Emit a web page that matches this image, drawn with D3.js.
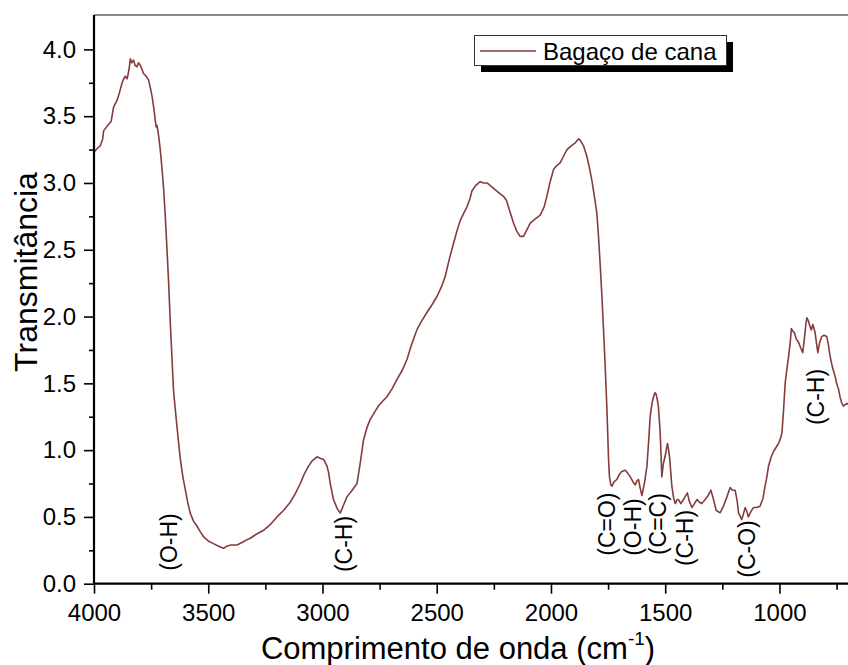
<!DOCTYPE html>
<html>
<head>
<meta charset="utf-8">
<script src="https://cdn.jsdelivr.net/npm/d3@7"></script>
<style>
  html, body { margin: 0; padding: 0; background: #fff; }
  svg { display: block; font-family: "Liberation Sans", Arial, sans-serif; }
</style>
</head>
<body>
<svg id="chart" width="848" height="665"></svg>
<script>
// ---- Data ----
const wavenumber = [4000,3985,3972,3962,3958,3945,3936,3925,3921,3914,3905,3899,3888,3877,3870,3863,3855,3849,3845,3841,3835,3827,3820,3812,3805,3797,3790,3783,3772,3761,3753,3746,3739,3732,3728,3724,3717,3710,3702,3695,3688,3681,3673,3666,3659,3652,3644,3637,3630,3622,3611,3600,3590,3579,3565,3549,3535,3520,3500,3477,3455,3433,3420,3400,3374,3350,3330,3316,3290,3258,3230,3199,3170,3141,3120,3097,3080,3061,3045,3024,3010,2995,2980,2973,2966,2952,2935,2922,2910,2893,2870,2849,2835,2820,2805,2791,2770,2755,2735,2718,2695,2674,2650,2630,2610,2587,2565,2543,2520,2499,2480,2463,2445,2426,2410,2397,2380,2368,2355,2346,2330,2310,2295,2280,2265,2251,2230,2208,2195,2186,2175,2164,2150,2135,2120,2105,2091,2070,2047,2030,2018,2005,1989,1975,1960,1945,1930,1910,1894,1880,1872,1858,1843,1830,1821,1810,1799,1792,1785,1777,1770,1762,1755,1748,1744,1738,1733,1725,1712,1700,1690,1675,1665,1653,1640,1631,1624,1617,1610,1602,1590,1580,1572,1566,1558,1551,1545,1540,1535,1530,1522,1518,1515,1508,1501,1490,1485,1481,1475,1471,1463,1456,1448,1442,1432,1420,1410,1403,1395,1383,1372,1361,1350,1340,1325,1312,1300,1290,1277,1260,1245,1230,1216,1205,1194,1185,1179,1165,1158,1150,1143,1136,1125,1114,1100,1085,1072,1063,1055,1048,1036,1026,1015,1004,995,989,982,975,968,960,952,948,941,935,926,917,908,898,890,884,880,874,869,861,854,849,844,838,832,825,815,805,793,785,778,768,756,750,742,735,727,720,713,703,700];
const transmitancia = [3.23,3.26,3.28,3.33,3.39,3.42,3.44,3.46,3.50,3.57,3.60,3.62,3.68,3.75,3.78,3.80,3.78,3.83,3.87,3.93,3.90,3.92,3.88,3.87,3.90,3.88,3.85,3.82,3.80,3.77,3.71,3.65,3.57,3.47,3.42,3.43,3.35,3.25,3.10,2.95,2.75,2.52,2.24,1.95,1.70,1.45,1.30,1.18,1.06,0.93,0.80,0.70,0.61,0.53,0.47,0.43,0.39,0.35,0.32,0.30,0.28,0.265,0.28,0.29,0.29,0.31,0.33,0.34,0.37,0.40,0.44,0.50,0.55,0.61,0.67,0.75,0.82,0.88,0.92,0.95,0.94,0.93,0.88,0.83,0.75,0.63,0.56,0.53,0.58,0.65,0.70,0.75,0.90,1.08,1.17,1.23,1.29,1.33,1.37,1.40,1.46,1.53,1.60,1.68,1.79,1.90,1.97,2.03,2.09,2.15,2.22,2.30,2.43,2.55,2.65,2.72,2.78,2.82,2.88,2.94,2.98,3.01,3.00,3.00,2.98,2.96,2.93,2.90,2.87,2.82,2.76,2.70,2.64,2.60,2.60,2.65,2.70,2.73,2.76,2.82,2.90,3.00,3.10,3.13,3.15,3.20,3.25,3.28,3.30,3.33,3.32,3.28,3.20,3.10,3.02,2.90,2.77,2.60,2.40,2.15,1.90,1.60,1.30,0.93,0.80,0.74,0.73,0.76,0.78,0.82,0.84,0.85,0.83,0.80,0.76,0.74,0.77,0.78,0.72,0.66,0.76,0.88,1.08,1.25,1.35,1.40,1.43,1.42,1.38,1.33,1.13,0.95,0.80,0.90,0.95,1.05,1.00,0.95,0.82,0.73,0.64,0.60,0.63,0.63,0.60,0.63,0.66,0.68,0.62,0.57,0.60,0.63,0.61,0.60,0.63,0.66,0.70,0.64,0.55,0.53,0.58,0.65,0.72,0.70,0.70,0.62,0.53,0.48,0.52,0.57,0.54,0.50,0.54,0.57,0.57,0.58,0.64,0.73,0.80,0.88,0.95,0.99,1.02,1.05,1.09,1.13,1.30,1.50,1.60,1.70,1.82,1.91,1.89,1.88,1.83,1.81,1.77,1.73,1.85,1.95,1.99,1.97,1.94,1.90,1.94,1.91,1.88,1.80,1.73,1.80,1.85,1.86,1.85,1.78,1.70,1.62,1.55,1.50,1.46,1.40,1.35,1.33,1.34,1.35,1.34];

const xMajorTicks = [4000,3500,3000,2500,2000,1500,1000];
const xMinorTicks = [3750,3250,2750,2250,1750,1250,750];
const yMajorTicks = [0.0,0.5,1.0,1.5,2.0,2.5,3.0,3.5,4.0];
const yMinorTicks = [0.25,0.75,1.25,1.75,2.25,2.75,3.25,3.75];

const bandLabels = ["(O-H)","(C-H)","(C=O)","(O-H)","(C=C)","(C-H)","(C-O)","(C-H)"];
const bandWavenumber = [3672,2906,1755,1641,1532,1414,1142,840];
const bandLevel = [0.312,0.297,0.446,0.424,0.446,0.342,0.26,1.398];

const seriesName = "Bagaço de cana";
const xTitle = "Comprimento de onda (cm";
const yTitle = "Transmitância";

// ---- Layout ----
const svg = d3.select("#chart");
const pLeft = 94, pRight = 848, pTop = 16, pBottom = 583.7;
const lineColor = "#843c3c";

const x = d3.scaleLinear().domain([4000, 700]).range([pLeft, pRight]);
const y = d3.scaleLinear().domain([0, 4.25]).range([pBottom, pTop]);

svg.append("defs").append("clipPath").attr("id", "plotclip")
  .append("rect").attr("x", pLeft).attr("y", pTop - 2).attr("width", pRight - pLeft).attr("height", pBottom - pTop + 2);

// top frame line (grey)
svg.append("line").attr("x1", pLeft).attr("x2", pRight).attr("y1", 15).attr("y2", 15)
  .attr("stroke", "#8a8a8a").attr("stroke-width", 2);

// curve
const line = d3.line().x((d, i) => x(wavenumber[i])).y((d, i) => y(transmitancia[i]));
svg.append("path").datum(transmitancia)
  .attr("clip-path", "url(#plotclip)")
  .attr("fill", "none").attr("stroke", lineColor).attr("stroke-width", 1.6)
  .attr("stroke-linejoin", "round")
  .attr("d", line);

// axes
const fontTick = 24;
const xAxisG = svg.append("g").attr("transform", `translate(0,${pBottom})`)
  .call(d3.axisBottom(x).tickValues(xMajorTicks).tickSize(10).tickSizeOuter(0).tickPadding(10).tickFormat(d3.format("d")));
svg.append("g").attr("transform", `translate(0,${pBottom})`)
  .call(d3.axisBottom(x).tickValues(xMinorTicks).tickSize(6).tickSizeOuter(0).tickFormat(""))
  .call(g => g.select(".domain").remove());

const yAxisG = svg.append("g").attr("transform", `translate(${pLeft},0)`)
  .call(d3.axisLeft(y).tickValues(yMajorTicks).tickSize(10).tickSizeOuter(0).tickPadding(8).tickFormat(d3.format(".1f")));
svg.append("g").attr("transform", `translate(${pLeft},0)`)
  .call(d3.axisLeft(y).tickValues(yMinorTicks).tickSize(5).tickSizeOuter(0).tickFormat(""))
  .call(g => g.select(".domain").remove());

yAxisG.select(".domain").attr("d", `M0,${pBottom}V15`);
xAxisG.select(".domain").attr("d", `M${pLeft},0H${pRight}`);

svg.selectAll(".domain").attr("stroke", "#000").attr("stroke-width", 2.2);
svg.selectAll(".tick line").attr("stroke", "#000").attr("stroke-width", 1.6);
svg.selectAll(".tick text").attr("fill", "#000")
  .style("font-size", fontTick + "px").style("font-family", '"Liberation Sans", Arial, sans-serif');

// axis titles
const xt = svg.append("text").attr("x", 458).attr("y", 659).attr("text-anchor", "middle")
  .style("font-size", "31px").attr("fill", "#000");
xt.append("tspan").text(xTitle);
xt.append("tspan").text("-1").style("font-size", "19px").attr("dy", -14);
xt.append("tspan").text(")").attr("dy", 14);

svg.append("text").attr("transform", "translate(37,272) rotate(-90)")
  .attr("text-anchor", "middle").style("font-size", "32px").attr("fill", "#000")
  .text(yTitle);

// band annotations
svg.append("g").selectAll("text").data(bandLabels).join("text")
  .attr("transform", (d, i) => `translate(${x(bandWavenumber[i])},${y(bandLevel[i])}) rotate(-90)`)
  .attr("text-anchor", "middle").attr("dy", "0.35em")
  .style("font-size", "23px").attr("fill", "#000")
  .text(d => d);

// legend
const lg = svg.append("g");
lg.append("rect").attr("x", 481).attr("y", 42).attr("width", 252).attr("height", 30).attr("fill", "#000");
lg.append("rect").attr("x", 474.5).attr("y", 35.5).attr("width", 252).attr("height", 30)
  .attr("fill", "#fff").attr("stroke", "#333").attr("stroke-width", 1);
lg.append("line").attr("x1", 480).attr("x2", 536).attr("y1", 51).attr("y2", 51)
  .attr("stroke", lineColor).attr("stroke-width", 1.6);
lg.append("text").attr("x", 543).attr("y", 60).style("font-size", "24px").attr("fill", "#000")
  .text(seriesName);
</script>
</body>
</html>
